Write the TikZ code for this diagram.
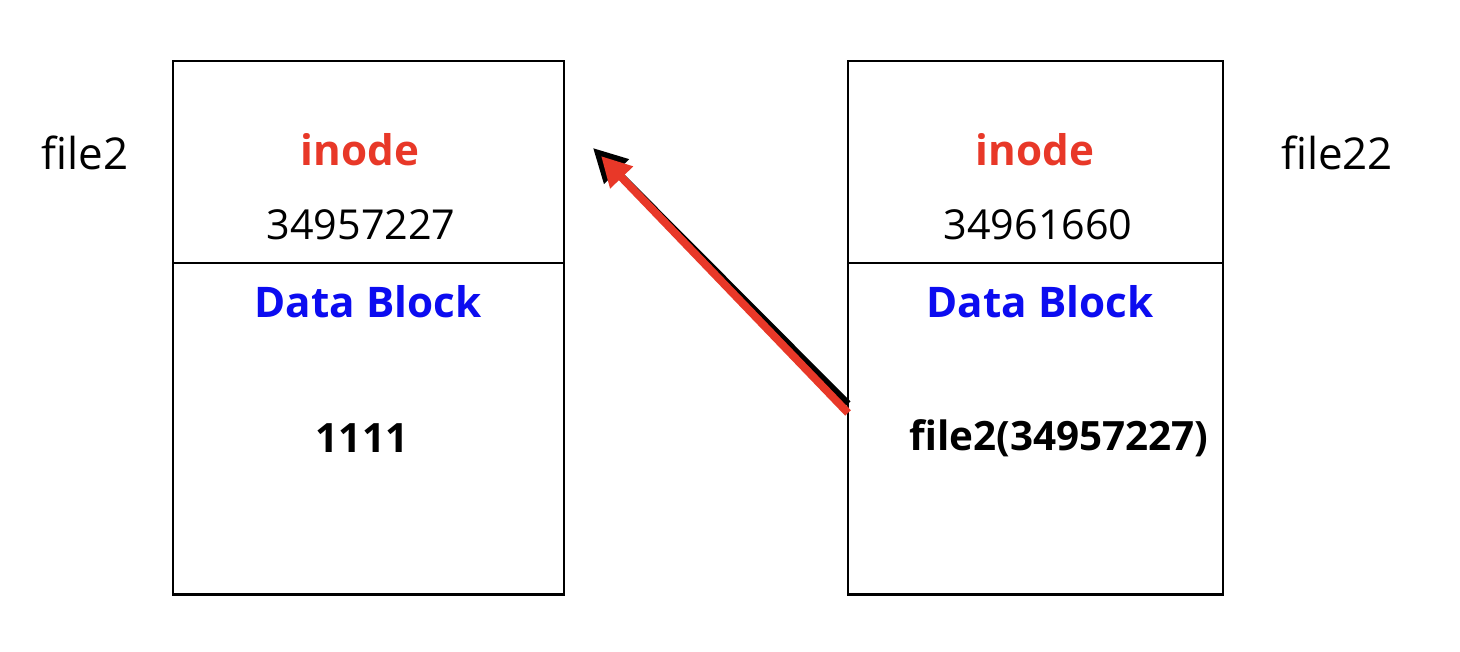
\documentclass[tikz,border=0pt]{standalone}
\usepackage{fontspec}
\setmainfont{Open Sans}
\usetikzlibrary{positioning,calc,arrows.meta}
\definecolor{inodered}{RGB}{232,56,40}
\definecolor{blockblue}{RGB}{12,12,240}

\begin{document}
\begin{tikzpicture}[x=0.02cm,y=-0.02cm,
  box/.style={draw,line width=1.6pt,inner sep=0pt,outer sep=0pt},
  title/.style={font=\bfseries\fontsize{24}{28}\selectfont},
  num/.style={font=\fontsize{23.5}{27}\selectfont},
  content/.style={font=\bfseries\fontsize{23}{27}\selectfont},
  fname/.style={font=\fontsize{25}{29}\selectfont}]
\useasboundingbox (0,0) rectangle (1460,652);
% left file
\node[box,minimum width=7.82cm,minimum height=4.04cm,anchor=north west] (inode1) at (173,61) {};
\node[box,minimum width=7.82cm,minimum height=6.64cm,below=0pt of inode1] (data1) {};
% right file
\node[box,minimum width=7.5cm,minimum height=4.04cm,anchor=north west] (inode2) at (848,61) {};
\node[box,minimum width=7.5cm,minimum height=6.64cm,below=0pt of inode2] (data2) {};

\node[fname] (name1) at (85,153) {file2};
\node[fname] (name2) at (1337,153) {file22};

\node[title,text=inodered] (lbl1) at (360,150) {inode};
\node[num] (ino1) at (361,225) {34957227};
\node[title,text=blockblue] (blk1) at (368,302) {Data Block};
\node[content] (val1) at (362,438) {1111};

\node[title,text=inodered] (lbl2) at (1035,150) {inode};
\node[num] (ino2) at (1038,225) {34961660};
\node[title,text=blockblue] (blk2) at (1040,302) {Data Block};
\node[content] (val2) at (1059,438) {file2(34957227)};

\coordinate (target) at (601,156);
\draw[line width=4pt,-{Triangle[length=19pt,width=19pt]}]
  ([yshift=0.5cm]data2.west) -- ([xshift=-0.16cm,yshift=0.16cm]target);
\draw[line width=4.5pt,inodered,-{Triangle[length=17pt,width=17pt]}]
  ([yshift=0.32cm]data2.west) -- (target);
\end{tikzpicture}
\end{document}
